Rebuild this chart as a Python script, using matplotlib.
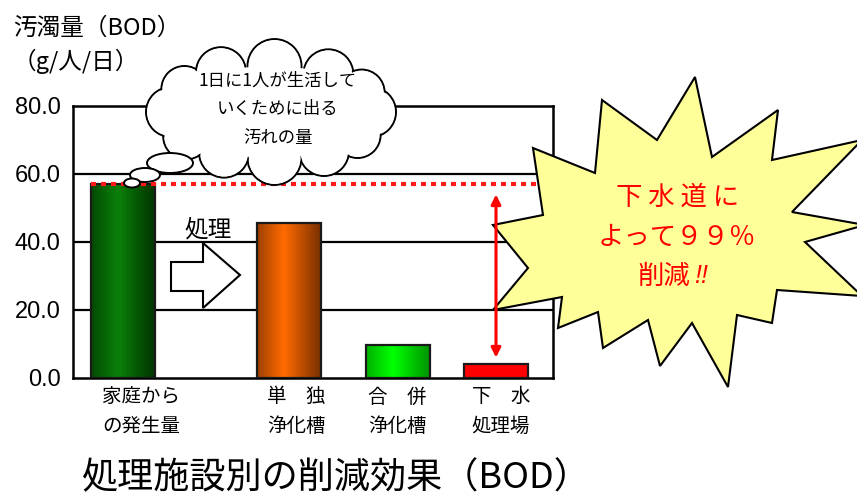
"""BOD reduction by treatment facility (処理施設別の削減効果)."""

import matplotlib.pyplot as plt
import numpy as np
from matplotlib.colors import LinearSegmentedColormap
from matplotlib.patches import Circle, Ellipse, Polygon

JP = ["Noto Sans CJK JP", "DejaVu Sans"]
LAT = ["Liberation Sans", "DejaVu Sans"]

categories = ["家庭から\nの発生量", "単　独\n浄化槽", "合　併\n浄化槽", "下　水\n処理場"]
bod_values = [57.0, 45.7, 9.8, 4.0]
y_ticks = [0, 20, 40, 60, 80]
y_tick_labels = ["0.0", "20.0", "40.0", "60.0", "80.0"]

# layout (x in axis units, 1 unit = 100 px)
bar_x = [0.50, 2.155, 3.25, 4.23]
label_x = [0.68, 2.23, 3.24, 4.28]
bar_width = 0.64
bar_shades = [
    ("#003400", "#0a800a"),
    ("#7a3000", "#ff6a00"),
    ("#009400", "#00ff00"),
    ("#ff0000", "#ff0000"),
]

fig = plt.figure(figsize=(8.57, 5.0), dpi=100)
ax = fig.add_axes([73 / 857, 1 - 378 / 500, 480 / 857, 272 / 500])
ax.set_xlim(0, 4.8)
ax.set_ylim(0, 80)

for v in (20, 40, 60):
    ax.axhline(v, color="black", lw=1.6, zorder=1)

grad = np.abs(np.linspace(0, 1, 64) - 0.42)
grad = 1 - grad / grad.max()
grad = grad[np.newaxis, :]
for x, v, (dark, bright) in zip(bar_x, bod_values, bar_shades):
    rect = ax.bar(x, v, width=bar_width, facecolor="none",
                  edgecolor="#1a1a1a", lw=1.6, zorder=3)[0]
    cmap = LinearSegmentedColormap.from_list("g", [dark, bright])
    im = ax.imshow(grad, cmap=cmap, extent=[x - bar_width / 2, x + bar_width / 2, 0, v],
                   aspect="auto", zorder=2, interpolation="bilinear")
    im.set_clip_path(rect)

ax.set_xlim(0, 4.8)
ax.set_ylim(0, 80)

# red dotted reference line at household generation level
ax.hlines(bod_values[0], bar_x[0] - bar_width / 2, 4.8, color="#ff1a1a", lw=3,
          linestyles=(0, (1.2, 1.2)), zorder=4)

for s in ax.spines.values():
    s.set_linewidth(1.8)
ax.set_yticks(y_ticks, y_tick_labels)
for t in ax.get_yticklabels():
    t.set_fontfamily(LAT)
    t.set_fontsize(17)
ax.set_xticks(label_x, categories)
for t in ax.get_xticklabels():
    t.set_fontfamily(JP)
    t.set_fontsize(14)
    t.set_linespacing(1.55)
ax.tick_params(axis="both", length=0)
ax.tick_params(axis="y", pad=9)
ax.tick_params(axis="x", pad=6)

# overlay in pixel coordinates for callouts
ov = fig.add_axes([0, 0, 1, 1], zorder=5)
ov.set_xlim(0, 857)
ov.set_ylim(500, 0)
ov.axis("off")
ov.patch.set_alpha(0)

# block arrow "処理"
ov.add_patch(Polygon([(171, 262), (203, 262), (203, 243), (240, 275), (203, 308),
                      (203, 291), (171, 291)], closed=True, fc="white", ec="black", lw=1.5))
ov.text(208, 230, "処理", family=JP, fontsize=17, ha="center", va="center")

# thought cloud
cx, cy, a, b = 271, 112, 100, 46
bumps = [(0, 25), (30, 23), (58, 25), (88, 27), (118, 25), (148, 23), (180, 25),
         (210, 23), (240, 25), (272, 27), (305, 25), (335, 23)]
for ang, r in bumps:
    t = np.radians(ang)
    ov.add_patch(Circle((cx + a * np.cos(t), cy + b * np.sin(t)), r,
                        fc="white", ec="black", lw=1.4, zorder=1))
for ang, r in bumps:
    t = np.radians(ang)
    ov.add_patch(Circle((cx + a * np.cos(t), cy + b * np.sin(t)), r - 1.3,
                        fc="white", ec="none", zorder=2))
ov.add_patch(Ellipse((cx, cy), 2 * a, 2 * b, fc="white", ec="none", zorder=2))
for (ex, ey, w, h) in [(170, 163, 46, 20), (145, 175, 30, 14), (132, 183, 16, 9)]:
    ov.add_patch(Ellipse((ex, ey), w, h, fc="white", ec="black", lw=1.4, zorder=3))
ov.text(278, 109, "1日に1人が生活して\nいくために出る\n汚れの量", family=JP,
        fontsize=12.5, ha="center", va="center", linespacing=1.75, zorder=4)

# starburst
star = [(695, 77), (712, 157), (778, 110), (772, 160), (862, 140), (792, 212),
        (865, 225), (805, 242), (862, 296), (777, 290), (772, 323), (737, 315),
        (728, 387), (692, 323), (660, 366), (648, 320), (603, 348), (598, 312),
        (558, 328), (562, 297), (493, 310), (528, 268), (493, 225), (543, 215),
        (533, 148), (595, 173), (602, 100), (657, 140)]
ov.add_patch(Polygon(star, closed=True, fc="#ffff99", ec="black", lw=1.5, zorder=6))
ov.text(678, 197, "下 水 道 に", family=JP, fontsize=19, color="red",
        ha="center", va="center", zorder=7)
ov.text(677, 237, "よって９９％", family=JP, fontsize=19, color="red",
        ha="center", va="center", zorder=7)
ov.text(664, 276, "削減", family=JP, fontsize=19, color="red",
        ha="center", va="center", zorder=7)
ov.text(701, 276, "!!", family=LAT, fontsize=18, color="red", style="italic",
        ha="center", va="center", zorder=7)

# red double arrow from household level down to sewer level
ov.annotate("", xy=(bar_x[3], bod_values[3] + 2), xytext=(bar_x[3], bod_values[0] - 3),
            xycoords=ax.transData, textcoords=ax.transData,
            arrowprops=dict(arrowstyle="<|-|>", color="red", lw=2.2,
                            mutation_scale=14, shrinkA=0, shrinkB=0), zorder=8)

# axis title and figure title
fig.text(13 / 857, 1 - 28 / 500, "汚濁量（BOD）", family=JP, fontsize=17, va="center")
fig.text(13 / 857, 1 - 61 / 500, "（g/人/日）", family=JP, fontsize=17, va="center")
fig.text(336 / 857, 1 - 478 / 500, "処理施設別の削減効果（BOD）", family=JP,
         fontsize=26, ha="center", va="center")

fig.savefig("out.png", dpi=100)
